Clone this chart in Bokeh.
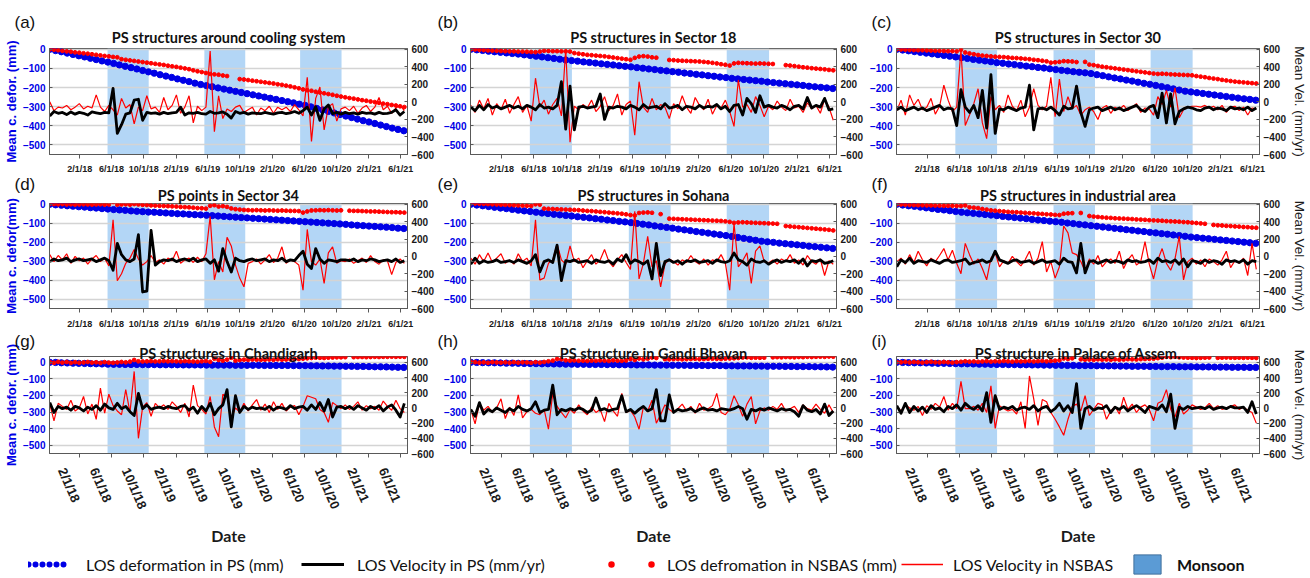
import pandas as pd
from bokeh.plotting import figure
from bokeh.layouts import column, row
from bokeh.models import (Range1d, LinearAxis, DatetimeAxis, FixedTicker, BoxAnnotation, Title,
                          Legend, LegendItem, DatetimeTickFormatter, ColumnDataSource)
from bokeh.embed import file_html
from bokeh.resources import INLINE

nan = float("nan")

# ---------------- data ----------------
# NSBAS series and PS velocity: 16-day grid, 85 acquisitions
start_date = "2017-10-10"
n_points = 85
dates = pd.date_range(start_date, periods=n_points, freq="16D")
# PS deformation: 22-day grid, 62 epochs
n_ps = 62
ps_dates = pd.date_range(start_date, periods=n_ps, freq="22D")

x_start, x_end = "2017-10-09", "2021-06-27"
tick_dates = ["2018-02-01", "2018-06-01", "2018-10-01", "2019-02-01", "2019-06-01", "2019-10-01",
              "2020-02-01", "2020-06-01", "2020-10-01", "2021-02-01", "2021-06-01"]
tick_labels = ["2/1/18", "6/1/18", "10/1/18", "2/1/19", "6/1/19", "10/1/19",
               "2/1/20", "6/1/20", "10/1/20", "2/1/21", "6/1/21"]
monsoon_start = ["2018-05-17", "2019-05-19", "2020-05-16"]
monsoon_end = ["2018-10-20", "2019-10-21", "2020-10-20"]
defo_ticks = [0, -100, -200, -300, -400, -500]
vel_ticks = [600, 400, 200, 0, -200, -400, -600]

titles = ["PS structures around cooling system", "PS structures in Sector 18", "PS structures in Sector 30",
          "PS points in Sector 34", "PS structures in Sohana", "PS structures in industrial area",
          "PS structures in Chandigarh", "PS structure in Gandi Bhavan", "PS structure in Palace of Assem."]
panel_tags = ["(a)", "(b)", "(c)", "(d)", "(e)", "(f)", "(g)", "(h)", "(i)"]
left_axis_titles = ["Mean c. defor. (mm)", None, None, "Mean c. defor(mm)", None, None,
                    "Mean c. defor. (mm)", None, None]
right_axis_title = "Mean Vel. (mm/yr)"
x_axis_title = "Date"
legend_labels = ["LOS deformation in PS (mm)", "LOS Velocity in PS (mm/yr)",
                 "LOS defromation in NSBAS (mm)", "LOS Velocity in NSBAS", "Monsoon"]

# (a) PS structures around cooling system
a_ps_def = [0, -7, -13, -20, -27, -34, -40, -47, -54, -61,
            -67, -74, -82, -89, -96, -103, -111, -118, -125, -133,
            -140, -147, -155, -162, -169, -177, -184, -190, -196, -202,
            -208, -214, -220, -226, -232, -238, -244, -250, -256, -262,
            -268, -274, -280, -287, -293, -301, -309, -317, -325, -333,
            -341, -349, -357, -365, -373, -380, -388, -396, -404, -412,
            -419, -426]
a_nb_def = [0, -2, -5, -8, -11, -13, -16, -18, -21, -23,
            -26, -29, -32, -35, -37, -40, -42, -52, -55, -58,
            -61, -64, -67, -70, -73, -76, -79, -82, -86, -89,
            -92, -96, -100, -104, -110, -115, -119, -124, -129, -131,
            -133, -137, -140, nan, nan, -156, -158, -161, -164, -167,
            -170, -173, -176, -179, -183, -186, -190, -194, -199, -204,
            -210, -214, -217, -222, -226, -230, -234, -238, -243, -247,
            -251, -255, -258, -262, -266, -269, -273, -276, -280, -284,
            -287, -291, -294, -298, -302]
a_ps_vel = [-160, -110, -130, -120, -145, -115, -140, -120, -130, -150,
            -115, -125, -135, -120, -125, 155, -360, -260, -140, -125,
            20, 30, -210, -120, -130, -125, -140, -120, -135, -125,
            -120, -60, -150, -125, -130, -120, -135, -140, -110, -130,
            -125, -115, -140, -185, -110, -130, -120, -140, -125, -130,
            -135, -120, -130, -140, -125, -120, -135, -125, -110, -130,
            -100, -60, -150, -55, -210, -80, -35, -135, -120, -140,
            -120, -135, -125, -140, -120, -130, -125, -140, -120, -135,
            -130, -120, -90, -150, -110]
a_nb_vel = [0, -100, -60, -70, -40, -90, -60, -20, -80, -50,
            -70, 80, -60, -110, -40, -90, -150, 40, -70, -30,
            -250, -60, -100, 70, -80, -60, -120, 50, -90, -40,
            80, -130, -60, 70, -240, -50, -100, -60, 580, -340,
            70, -190, -80, -110, -60, -40, -120, -90, -60, -150,
            -70, -100, -50, -130, -60, -90, -60, -110, -30, -90,
            -160, 280, -450, 40, 170, -320, -60, -20, -220, -80,
            -60, -100, -50, -130, -70, -40, -110, -60, 50, -90,
            -50, -130, -70, -40, -100]

# (b) Sector 18
b_ps_def = [0, -3, -6, -10, -13, -16, -19, -22, -25, -29,
            -32, -36, -40, -44, -48, -52, -56, -59, -62, -66,
            -69, -72, -76, -79, -82, -86, -89, -92, -96, -99,
            -103, -106, -110, -113, -117, -120, -124, -127, -131, -134,
            -138, -141, -145, -148, -152, -155, -158, -161, -164, -167,
            -171, -174, -177, -180, -183, -186, -189, -193, -196, -199,
            -202, -205]
b_nb_def = [0, -1, -3, -4, -6, -7, -8, -9, -10, -11,
            -11, -12, -12, -13, -14, -15, -12, -8, -9, -10,
            -10, -11, -11, -12, -20, -23, -26, -29, -31, -33,
            -35, -37, -40, -43, -46, -49, -52, -55, -45, -38,
            -36, -38, -42, -44, nan, nan, -56, -57, -59, -60,
            -61, -62, -63, -64, -66, -68, -71, -74, -78, -81,
            -85, -74, -71, -72, -73, -74, -75, -74, -75, -76,
            -77, nan, nan, -83, -85, -88, -91, -94, -96, -99,
            -101, -103, -105, -108, -110]
b_ps_vel = [-60, -100, -40, -90, -30, -70, -50, -80, -60, -40,
            -70, -50, -80, -40, -60, -90, -30, -70, -60, -80,
            -40, 230, -310, 180, -320, -60, -50, -70, -60, -50,
            90, -200, -60, -70, -50, -60, -80, -40, -60, -90,
            -30, -70, -60, -50, -80, -20, -70, -60, -40, -90,
            -50, -60, -80, -40, -70, -50, -60, -30, -80, -50,
            -110, -40, -30, -150, 40, -20, -120, 70, -60, -40,
            -60, -70, -40, -60, -90, -50, -40, -80, 50, -70,
            -40, -60, 40, -90, -80]
b_nb_vel = [-40, -120, 20, -80, 40, -150, -20, -90, 30, -130,
            -30, 60, -120, -40, -220, 270, -60, 20, -140, -30,
            40, -160, 600, -460, -50, -90, -30, -70, 20, -110,
            -50, 60, -100, -40, 90, -150, -30, 10, -380, 230,
            -60, -120, 40, -90, -30, -60, -190, -20, -80, 70,
            -60, -130, 50, -40, -90, 30, -140, -40, -70, 20,
            -110, -280, 250, -60, -30, -120, 60, -40, -170, -50,
            -90, 10, -60, -100, 30, -70, -50, -120, -10, -80,
            -40, -130, 30, -60, -210]

# (c) Sector 30
c_ps_def = [0, -4, -8, -12, -16, -20, -24, -28, -32, -36,
            -40, -44, -48, -53, -57, -61, -65, -70, -73, -77,
            -80, -84, -88, -91, -95, -98, -102, -106, -110, -113,
            -117, -120, -123, -127, -133, -138, -144, -150, -155, -161,
            -166, -172, -178, -183, -189, -195, -201, -207, -213, -219,
            -223, -227, -231, -235, -239, -243, -247, -251, -255, -259,
            -262, -266]
c_nb_def = [0, -1, -2, -3, -4, -5, -5, -6, -7, -8,
            -8, -9, -10, -10, -11, -3, -17, -22, -26, -30,
            -33, -35, -37, -39, -40, -41, -43, -45, -46, -48,
            -50, -52, -55, -57, -60, -63, -70, -68, -66, -62,
            -63, -64, -67, nan, -66, -80, -83, -87, -91, -94,
            -97, -100, -103, -106, -109, -112, -115, -118, -121, -124,
            -127, -129, -128, -129, -131, -132, -133, -134, -135, -136,
            -140, -143, -146, -150, -153, -156, -160, -163, -166, -169,
            -171, -173, -175, -177, -179]
c_ps_vel = [-90, -60, -100, -80, -60, -90, -70, -100, -80, -60,
            -40, -90, -70, -80, -270, 140, -60, -120, -40, -180,
            130, -300, 310, -360, -80, -90, -60, -80, -100, -70,
            -60, 190, -320, -80, -70, -90, -60, -100, -150, -50,
            -80, -70, 180, -120, -280, -90, -70, -60, -100, -80,
            -60, -90, -70, -100, -80, -60, -40, -90, -110, -60,
            -40, -180, 100, -240, 90, -250, -110, -80, -60, -70,
            -90, -100, -70, -60, -90, -70, -80, -100, -60, -80,
            -70, -90, -60, -100, -70]
c_nb_vel = [-100, 20, -150, 80, -40, 30, -90, -60, 40, -140,
            -50, 190, 20, -110, -60, 600, -270, -150, -20, 150,
            -240, -420, 60, -90, -40, -120, 80, -50, -100, 20,
            -170, -60, 150, -40, -90, -50, 280, -170, 260, -110,
            60, -80, -40, -150, -90, -60, -110, -200, -70, -40,
            -130, -60, -90, -40, -100, -60, -20, -120, -70, -80,
            -150, 60, -30, 130, -60, 160, -180, -90, -60, -50,
            -50, -60, -40, -70, -50, -90, -40, -120, -60, -50,
            -100, -60, -150, -70, -80]

# (d) Sector 34
d_ps_def = [0, -3, -5, -8, -10, -13, -15, -18, -20, -23,
            -25, -28, -30, -32, -35, -37, -39, -41, -42, -44,
            -46, -48, -50, -51, -53, -55, -56, -58, -60, -62,
            -64, -66, -68, -70, -72, -74, -76, -78, -80, -82,
            -84, -86, -88, -90, -92, -94, -96, -98, -100, -102,
            -104, -106, -109, -111, -113, -115, -117, -119, -121, -123,
            -126, -128]
d_nb_def = [2, 1, 0, 1, -1, 0, -2, -1, 0, -1,
            -2, -1, 0, -2, -1, 12, -2, -1, 0, -2,
            1, -1, -3, -4, -6, -7, -8, -9, -10, -11,
            -12, -14, -15, -16, -18, -20, -21, -23, -8, -5,
            -12, -10, -14, -22, -26, -28, -30, -31, -32, -31,
            -32, -33, -32, -33, -34, -33, -34, -35, -35, -36,
            -44, -38, -33, -32, -31, -32, -31, -32, -33, -32,
            nan, -34, -35, -35, -36, -37, -38, -38, -39, -40,
            -41, -42, -42, -43, -44]
d_ps_vel = [-60, -30, -50, -40, -20, -60, -40, -30, -50, -40,
            -30, -60, -40, -20, -50, -160, 150, 20, -40, -60,
            -30, 250, -410, -400, 300, -100, -60, -40, -50, -30,
            -60, -40, -30, -50, -20, -60, -40, -30, -80, -40,
            -170, 90, -60, -180, -20, -50, -60, -40, -30, -50,
            -40, -30, -60, -40, -50, -20, -60, -40, -50, 10,
            60, -90, -140, 90, -30, -80, -40, -50, -60, -40,
            -40, -50, -30, -60, -40, -50, -30, -40, -60, -50,
            -40, -60, -30, -70, -50]
d_nb_vel = [20, -60, 10, -40, 30, -80, 0, -50, -20, -90,
            -30, 10, -60, -20, -110, 420, -280, -200, -80, -20,
            80, -30, -100, -60, 10, -70, -40, -90, -20, -50,
            60, -80, -40, -20, -70, -10, -60, 30, 460, -270,
            -60, -180, 220, 120, -100, -250, -350, -80, -60, -30,
            -90, -40, 20, -70, -20, 110, -80, -40, -60, -100,
            -390, 310, -60, -100, -30, -310, 40, 110, -80, -50,
            -60, -30, -80, -50, -20, -70, 10, -60, -90, -40,
            -50, -210, -70, -30, -80]

# (e) Sohana
e_ps_def = [0, -4, -8, -12, -16, -20, -23, -27, -31, -35,
            -38, -42, -46, -49, -53, -56, -59, -62, -66, -69,
            -72, -76, -79, -83, -86, -90, -93, -97, -101, -105,
            -109, -114, -118, -122, -126, -131, -135, -139, -144, -148,
            -152, -157, -161, -165, -170, -175, -180, -185, -190, -195,
            -198, -201, -205, -208, -211, -214, -217, -221, -224, -227,
            -230, -233]
e_nb_def = [5, 4, 3, 2, 1, 0, -1, -2, -3, -4,
            -5, -6, -7, -8, -9, 0, -2, -23, -24, -25,
            -26, -27, -28, -29, -30, -31, -33, -35, -36, -38,
            -40, -42, -44, -46, -48, -50, -53, -57, -59, -46,
            -44, -43, -45, nan, -52, nan, -76, -77, -78, -79,
            -80, -81, -82, -83, -84, -85, -86, -87, -88, -90,
            -93, -98, -96, -95, -96, -97, -98, -99, -100, -101,
            -102, -103, nan, -115, -117, -119, -121, -123, -125, -127,
            -129, -131, -133, -135, -138]
e_ps_vel = [-90, -20, -80, -50, -70, -60, -40, -70, -60, -50,
            -70, -40, -60, -80, -50, 20, -180, -60, -40, -70,
            130, -280, -50, -60, -40, -70, -60, -50, -80, -40,
            -60, -70, -50, -90, -30, -60, 20, -80, -40, -60,
            -90, -50, -260, 150, -220, -60, -40, -70, -50, -90,
            -50, -60, -40, -70, -60, -50, -80, -40, -60, -70,
            -50, 40, -40, -60, -100, -30, -60, -70, -50, -90,
            -60, -40, -70, -50, -60, -40, -80, -30, -110, -50,
            -60, -40, -80, -70, -50]
e_nb_vel = [-20, -90, 20, -60, 40, -70, -20, 30, -80, -40,
            -90, 30, -60, -20, -110, 420, -270, -250, -80, -40,
            140, -40, -90, 120, -60, -20, -130, -50, 20, -90,
            -40, 80, -60, -120, -40, 20, -70, -150, 520, -260,
            -80, 230, -120, -50, -350, -90, -30, -60, -100, -40,
            -70, 10, -60, -90, -30, -100, -40, -60, 20, -80,
            -390, 380, -120, -50, 40, -310, 60, 120, -60, -80,
            -40, -90, -30, -60, 20, -80, -40, -100, 10, -60,
            -90, -30, -220, -50, -90]

# (f) industrial area
f_ps_def = [0, -4, -8, -11, -15, -19, -23, -27, -30, -34,
            -38, -42, -45, -48, -51, -54, -57, -60, -64, -67,
            -70, -73, -76, -80, -83, -86, -89, -92, -95, -99,
            -102, -106, -109, -113, -116, -120, -123, -127, -130, -134,
            -137, -141, -144, -148, -151, -155, -158, -162, -165, -169,
            -173, -176, -179, -182, -185, -188, -191, -194, -197, -200,
            -203, -206]
f_nb_def = [0, -1, -2, -3, -4, -5, -5, -6, -6, -7,
            -7, -8, -8, -8, -9, -9, -6, -16, -18, -20,
            -25, -28, -32, -34, -36, -38, -40, -41, -42, -44,
            -45, -47, -48, -50, -51, -53, -54, -56, -57, -50,
            -48, -47, nan, -46, nan, -62, -65, -67, -69, -71,
            -72, -74, -75, -76, -77, -78, -80, -81, -82, -84,
            -85, -86, -87, -89, -90, -91, -92, -94, -95, -97,
            -99, -101, -103, nan, -109, -111, -112, -114, -115, -117,
            -118, -120, -121, -123, -124]
f_ps_vel = [-120, -40, -70, -20, -80, -50, -60, -70, -40, -60,
            -80, -50, -40, -70, -60, -50, -30, -90, -70, -60,
            -40, -70, -50, 60, -40, -60, -80, -50, -40, -70,
            -60, -50, -80, -60, -40, -70, -60, -50, -90, -20,
            -60, -70, -190, 150, -190, -60, -50, -80, -60, -40,
            -70, -50, -60, -80, -40, -60, -50, -70, -60, -40,
            -80, -20, -60, -50, -70, -40, -90, -30, -120, -50,
            -60, -80, -40, -70, -50, -60, -90, -40, -60, -50,
            -70, -40, -90, -50, -60]
f_nb_vel = [-60, -20, -90, 20, -70, 60, -40, -110, -20, -60,
            10, 90, -40, 70, -80, -200, 150, 20, -90, -30,
            -140, -270, -20, 40, -120, -50, -80, 0, -60, -110,
            -40, 60, -100, -20, 170, -180, -60, -250, -120, 350,
            270, 40, 20, -60, -170, -30, -90, 10, -120, -60,
            -30, -80, 60, -140, -40, 20, -100, -60, 170, -90,
            -260, -40, 90, -80, -160, -30, 230, -270, -60, -20,
            -90, -40, -120, -30, -60, -100, -40, 60, -130, -50,
            -80, -20, -220, 150, -150]

# (g) Chandigarh
g_ps_def = [0, -1, -3, -4, -5, -6, -7, -8, -9, -10,
            -11, -12, -12, -13, -13, -13, -14, -14, -14, -15,
            -15, -15, -15, -16, -16, -16, -16, -17, -17, -17,
            -17, -17, -18, -18, -18, -18, -18, -19, -19, -19,
            -19, -19, -20, -20, -20, -21, -21, -22, -22, -23,
            -23, -24, -24, -25, -25, -26, -27, -27, -28, -29,
            -30, -31]
g_nb_def = [2, -3, 3, -2, 2, -4, 1, -3, -1, 2,
            -2, 0, -4, 1, -2, -3, -1, 2, 0, 4,
            14, 6, 5, 6, 7, 5, 6, 8, 6, 7,
            6, 5, 7, 6, 5, 4, 6, 8, 3, 22,
            14, 10, 16, 27, 10, 14, 16, 15, 17, 16,
            15, 16, 17, 15, 18, 16, 17, 18, 19, 20,
            22, 24, 26, 28, 27, 26, 28, 29, 30, 30,
            31, nan, 31, 32, 32, 31, 32, 33, 32, 33,
            33, 34, 33, 34, 33]
g_ps_vel = [70, -60, 20, -10, 10, -30, 20, 0, -40, 10,
            -20, 30, -30, 50, 0, -20, 60, -10, 20, -50,
            -100, 190, -10, 40, -20, 0, 10, -10, 20, 0,
            -10, 20, 30, -30, 10, -70, 20, -40, 60, -90,
            -10, 40, 240, -250, 160, -60, 20, -20, 10, -10,
            0, -20, 20, -30, 10, 0, -20, 30, -10, 10,
            20, -30, 40, -20, 70, -40, 110, -120, 10, 20,
            -10, 20, -20, 30, 0, -30, 20, -10, 30, -40,
            10, 40, -30, -120, 60]
g_nb_vel = [50, -170, 60, 20, -20, 100, -40, 0, 150, -80,
            50, -150, 260, -70, 180, 30, -40, -90, 240, -60,
            480, -400, 10, 70, -110, 60, 0, 40, -20, 80,
            20, -60, 60, -120, 300, 30, -20, -80, 150, -250,
            -380, 180, 150, -130, 0, -60, 60, -40, 40, 110,
            -30, 50, -60, 80, -20, 60, -40, 10, 30, -90,
            20, 160, 140, 120, -20, -60, -190, 70, 30, -10,
            40, -20, 20, 80, -30, 30, -10, 20, -30, 90,
            20, -30, 100, -10, -60]

# (h) Gandi Bhavan
h_ps_def = [0, -1, -2, -3, -3, -4, -5, -5, -6, -7,
            -7, -8, -9, -9, -10, -10, -11, -11, -12, -12,
            -13, -13, -13, -14, -14, -15, -15, -15, -16, -16,
            -16, -17, -17, -17, -18, -18, -18, -19, -19, -19,
            -20, -20, -20, -21, -21, -22, -22, -22, -23, -23,
            -24, -24, -24, -25, -25, -26, -26, -26, -27, -27,
            -28, -29]
h_nb_def = [3, 1, -2, 0, -3, 1, -1, -2, 0, -3,
            1, -2, 0, -1, -3, 1, -2, 2, 6, 10,
            20, 18, 12, 10, 11, 9, 10, 8, 10, 9,
            11, 10, 8, 12, 10, 9, 11, 20, 14, 23,
            18, 22, 29, 26, nan, 19, 18, 19, 20, 18,
            19, 20, 21, 19, 20, 21, 22, 21, 20, 22,
            23, 24, 26, 29, 30, 27, 28, 27, 28, nan,
            30, 31, 30, 32, 31, 30, 32, 31, 33, 32,
            33, 34, 33, 35, 34]
h_ps_vel = [-20, -110, 70, -80, -20, -50, 0, -30, -60, -10,
            -40, 20, -20, -40, -10, 80, -60, -30, -20, 300,
            -90, -20, -40, -10, -30, 0, -20, -60, -30, 130,
            -30, -10, -40, -20, -10, 160, -50, -20, -70, -20,
            20, -40, -10, 240, -170, -170, 170, -60, -20, -40,
            -30, -10, -50, -20, 0, -30, -20, -40, -10, -20,
            -30, -10, 20, -10, -150, -20, -40, -10, -30, 0,
            -20, -40, -10, -30, -20, -50, -110, 30, -30, -50,
            -20, -80, 50, -100, -40]
h_nb_vel = [-20, -210, 60, -30, 20, -60, 0, 120, -140, 10,
            -100, 170, -130, -50, -20, -70, -90, -20, -280, 190,
            20, -60, -130, -20, -70, 40, -40, -90, 10, -60,
            -20, -180, 60, -40, -110, 190, -60, -30, -120, -280,
            10, -40, 100, -200, -90, 40, -20, -60, -10, 50,
            -40, 20, -70, 60, -30, -10, 30, 190, -60, -90,
            -20, 160, 40, -110, 50, 150, -210, -40, 0, -30,
            20, -20, 60, -40, -10, 20, -60, 40, -10, -30,
            50, -20, -70, 40, -60]

# (i) Palace of Assembly
i_ps_def = [0, -1, -2, -3, -3, -4, -5, -6, -6, -7,
            -8, -9, -9, -10, -11, -11, -12, -13, -13, -14,
            -14, -15, -15, -16, -16, -17, -17, -18, -18, -19,
            -19, -20, -20, -20, -21, -21, -22, -22, -23, -23,
            -24, -24, -24, -25, -25, -26, -26, -26, -27, -27,
            -27, -28, -28, -28, -29, -29, -29, -30, -30, -30,
            -31, -31]
i_nb_def = [2, 0, 3, -1, 2, 0, -2, 1, 3, 0,
            -1, 2, 0, -2, 1, 3, 6, 4, 5, 3,
            5, 7, 4, 6, 5, 8, 6, 4, 7, 5,
            6, 8, 5, 7, 9, 6, 8, 10, 12, 23,
            20, 24, nan, 18, 16, 17, 15, 18, 16, 17,
            15, 18, 16, 17, 19, 18, 17, 19, 20, 21,
            22, 25, 28, 33, 31, 33, 30, 29, 28, 27,
            26, 27, 28, 29, nan, 27, 28, 29, 28, 27,
            28, 27, 28, 27, 26]
i_ps_vel = [30, -70, 60, -60, 20, -40, 10, -60, 30, -20,
            0, -50, 20, -10, 40, -30, 60, 10, -20, 30,
            -40, 200, -190, 160, -20, 10, -10, 20, -30, 0,
            10, -20, 30, -40, 0, 20, -50, -10, 60, -40,
            30, -60, 320, -270, -10, 20, -30, 0, -10, 30,
            -60, 10, -20, 20, -40, 0, 30, -10, -60, 20,
            0, -20, 40, -50, 180, -270, 10, -20, 20, -10,
            0, 10, -10, 20, -20, 0, 10, -10, 20, 0,
            0, 10, -60, 80, -80]
i_nb_vel = [20, -40, 40, 0, -30, 20, -100, 30, -20, 60,
            10, 150, -30, 60, -10, 350, -10, -10, 20, -30,
            60, -60, 290, -270, 30, -10, -40, -20, -80, 80,
            -270, 420, 120, -230, 110, 80, -60, -150, -250, -360,
            -150, 20, 50, -40, 160, -100, -20, 60, 40, -150,
            -40, 20, -80, 140, -20, 50, -60, 10, 40, -20,
            -170, 60, 90, 240, -20, -120, 60, -80, -30, 40,
            10, -20, 0, 60, -10, 30, -20, 0, 20, 40,
            -20, 10, -30, -60, -200]

panels = [
    (a_ps_def, a_ps_vel, a_nb_def, a_nb_vel),
    (b_ps_def, b_ps_vel, b_nb_def, b_nb_vel),
    (c_ps_def, c_ps_vel, c_nb_def, c_nb_vel),
    (d_ps_def, d_ps_vel, d_nb_def, d_nb_vel),
    (e_ps_def, e_ps_vel, e_nb_def, e_nb_vel),
    (f_ps_def, f_ps_vel, f_nb_def, f_nb_vel),
    (g_ps_def, g_ps_vel, g_nb_def, g_nb_vel),
    (h_ps_def, h_ps_vel, h_nb_def, h_nb_vel),
    (i_ps_def, i_ps_vel, i_nb_def, i_nb_vel),
]
for k, (s0, s1, s2, s3) in enumerate(panels):
    assert len(s0) == n_ps, (k, "ps_def", len(s0))
    for s in (s1, s2, s3):
        assert len(s) == n_points, (k, len(s))

# ---------------- style ----------------
BLUE = "#0000e6"
RED = "#ff0000"
BAND = "#b3d6f6"
AXC = "#595959"
FS = "Liberation Sans"
FL = "Lato"


def ms(d):
    return pd.Timestamp(d).value // 10**6


x0, x1 = ms(x_start), ms(x_end)
tick_ms = [ms(d) for d in tick_dates]
label_shift_ms = -68 * 86400000  # rotated labels sit left of their tick, as in the original
DEF_BOTTOM = -550
BAND_TOP = 4

col_w = [437, 429, 444]
col_lr = [(47, 24), (33, 26), (25, 48)]
row_h = [176, 156, 216]
row_tb = [(48, 20), (27, 24), (21, 94)]
row_def_top = [4, 4, 35]          # bottom row leaves room for the NSBAS dots above zero
title_offsets = [-9, 0, 9, -9, 0, 8, -8, 8, 12]
title_standoff = [5, 0, -11]
tag_standoff = [-15, -19, -5]
tag_dx = [-35, -33, -25]
xlab_standoff = [5, 6]


def style_axis(ax, color, size="10px"):
    ax.axis_line_color = AXC
    ax.major_tick_line_color = AXC
    ax.minor_tick_line_color = None
    ax.major_label_text_color = color
    ax.major_label_text_font = FS
    ax.major_label_text_font_size = size
    ax.major_label_text_font_style = "bold"


def safe_title(text, standoff, **kw):
    try:
        return Title(text=text, standoff=standoff, **kw)
    except Exception:
        return Title(text=text, standoff=0, **kw)


def make_panel(k):
    r, c = divmod(k, 3)
    ps_def, ps_vel, nb_def, nb_vel = panels[k]
    bl, br = col_lr[c]
    bt, bb = row_tb[r]
    top = row_def_top[r]
    vel_top = -600 + (top - DEF_BOTTOM) * 1200.0 / (0 - DEF_BOTTOM)
    p = figure(width=col_w[c], height=row_h[r], x_axis_type="datetime",
               x_range=Range1d(x0, x1), y_range=Range1d(DEF_BOTTOM, top),
               toolbar_location=None, output_backend="svg", title=None,
               min_border_left=bl, min_border_right=br, min_border_top=bt, min_border_bottom=bb)
    p.extra_y_ranges = {"vel": Range1d(-600, vel_top)}
    p.background_fill_color = "white"
    p.border_fill_color = "white"
    p.outline_line_color = AXC
    p.outline_line_width = 1

    for s, e in zip(monsoon_start, monsoon_end):
        p.add_layout(BoxAnnotation(left=ms(s), right=ms(e), top=BAND_TOP, fill_color=BAND,
                                   fill_alpha=1.0, line_alpha=0, level="image"))

    src = ColumnDataSource(dict(date=dates, ps_vel=ps_vel, nb_def=nb_def, nb_vel=nb_vel))
    src_ps = ColumnDataSource(dict(date=ps_dates, ps_def=ps_def))
    p.scatter("date", "ps_def", source=src_ps, size=6.3, color=BLUE)
    p.scatter("date", "nb_def", source=src, size=3.8, color=RED)
    p.line("date", "nb_vel", source=src, y_range_name="vel", color=RED, line_width=1.2)
    p.line("date", "ps_vel", source=src, y_range_name="vel", color="black", line_width=2.8,
           line_join="round")

    # left axis (deformation)
    ya = p.left[0]
    ya.ticker = FixedTicker(ticks=defo_ticks)
    style_axis(ya, BLUE)
    ya.major_tick_in = 3
    ya.major_tick_out = 0
    ya.major_label_standoff = 4
    if left_axis_titles[k]:
        ya.axis_label = left_axis_titles[k]
        ya.axis_label_text_color = BLUE
        ya.axis_label_text_font = FS
        ya.axis_label_text_font_size = "13px"
        ya.axis_label_text_font_style = "bold"
        ya.axis_label_standoff = 1
    p.ygrid[0].ticker = ya.ticker
    p.ygrid.grid_line_color = "#d4d4d4"
    p.ygrid.grid_line_width = 1.5
    p.xgrid.visible = False

    # right axis (velocity)
    ra = LinearAxis(y_range_name="vel", ticker=FixedTicker(ticks=vel_ticks))
    style_axis(ra, "#1a1a1a")
    ra.major_tick_in = 3
    ra.major_tick_out = 0
    ra.major_label_standoff = 4
    if c == 2:
        ra.axis_label = right_axis_title
        ra.axis_label_text_font = FS
        ra.axis_label_text_font_size = "13.5px"
        ra.axis_label_text_font_style = "normal"
        ra.axis_label_text_color = "#1a1a1a"
        ra.axis_label_standoff = 3
    p.add_layout(ra, "right")

    # x axis
    fmt = "%-m/%-d/%y"
    xa = p.below[0]
    xa.ticker = FixedTicker(ticks=tick_ms)
    xa.formatter = DatetimeTickFormatter(days=fmt, months=fmt, years=fmt)
    style_axis(xa, "#1a1a1a", size="9px")
    xa.major_tick_out = 4
    xa.major_tick_in = 0
    if r < 2:
        xa.major_label_overrides = {t: lab for t, lab in zip(tick_ms, tick_labels)}
        xa.major_label_standoff = xlab_standoff[r]
    else:
        xa.major_label_overrides = {t: "" for t in tick_ms}
        xa.major_label_standoff = 0
        shifted = [t + label_shift_ms for t in tick_ms]
        xb = DatetimeAxis(ticker=FixedTicker(ticks=shifted),
                          formatter=DatetimeTickFormatter(days=fmt, months=fmt, years=fmt))
        xb.major_label_overrides = {t: lab for t, lab in zip(shifted, tick_labels)}
        style_axis(xb, "#1a1a1a", size="13px")
        xb.axis_line_color = None
        xb.major_tick_line_color = None
        xb.major_tick_in = 0
        xb.major_tick_out = 0
        xb.major_label_orientation = -1.16
        xb.major_label_standoff = 11
        xb.axis_label = x_axis_title
        xb.axis_label_text_font = FL
        xb.axis_label_text_font_size = "16px"
        xb.axis_label_text_font_style = "bold"
        xb.axis_label_text_color = "#1a1a1a"
        xb.axis_label_standoff = 9
        p.add_layout(xb, "below")

    # titles: main title next to the frame, panel tag above-left of it
    t = safe_title(titles[k], title_standoff[r], align="center", offset=title_offsets[k],
                   text_font=FL, text_font_size="14.5px", text_font_style="bold",
                   text_color="#111111")
    p.add_layout(t, "above")
    tag = safe_title(panel_tags[k], tag_standoff[r], align="left", offset=tag_dx[c],
                     text_font=FS, text_font_size="17px", text_font_style="normal",
                     text_color="#111111")
    p.add_layout(tag, "above")
    return p


figs = [make_panel(k) for k in range(9)]

# ---------------- legend strip ----------------
leg = figure(width=1310, height=30, toolbar_location=None, output_backend="svg",
             x_range=Range1d(0, 1), y_range=Range1d(0, 1), x_axis_location=None,
             y_axis_location=None, min_border=0, title=None)
leg.grid.visible = False
leg.outline_line_color = None
r1 = leg.line(x=[nan], y=[nan], line_color=BLUE, line_width=6, line_dash="0 7", line_cap="round")
r2 = leg.line(x=[nan], y=[nan], line_color="black", line_width=3.2)
r3 = leg.line(x=[nan], y=[nan], line_color=RED, line_width=6.5, line_dash="0 40", line_cap="round",
              line_dash_offset=-4)
r4 = leg.line(x=[nan], y=[nan], line_color=RED, line_width=1.6)
r5 = leg.quad(left=[nan], right=[nan], top=[nan], bottom=[nan], fill_color="#5b9bd5",
              line_color="#41719c")
leg_specs = [
    (legend_labels[0], r1, 28, 42, 16, "normal"),
    (legend_labels[1], r2, 301, 43, 13, "normal"),
    (legend_labels[2], r3, 607, 48, 12, "normal"),
    (legend_labels[3], r4, 901, 42, 10, "normal"),
    (legend_labels[4], r5, 1130, 34, 13, "bold"),
]
for lab_text, rend, lx, gw, so, style in leg_specs:
    lg = Legend(items=[LegendItem(label=lab_text, renderers=[rend])], location=(lx, 2),
                orientation="horizontal", glyph_width=gw, glyph_height=24, label_height=24,
                label_standoff=so, padding=0, margin=0, spacing=0,
                background_fill_alpha=0, border_line_alpha=0,
                label_text_font=FL, label_text_font_size="16px", label_text_font_style=style,
                label_text_color="#111111")
    leg.add_layout(lg)

layout = column(row(*figs[0:3]), row(*figs[3:6]), row(*figs[6:9]), leg)
open("out.html", "w").write(file_html(layout, INLINE, title="PS deformation"))
